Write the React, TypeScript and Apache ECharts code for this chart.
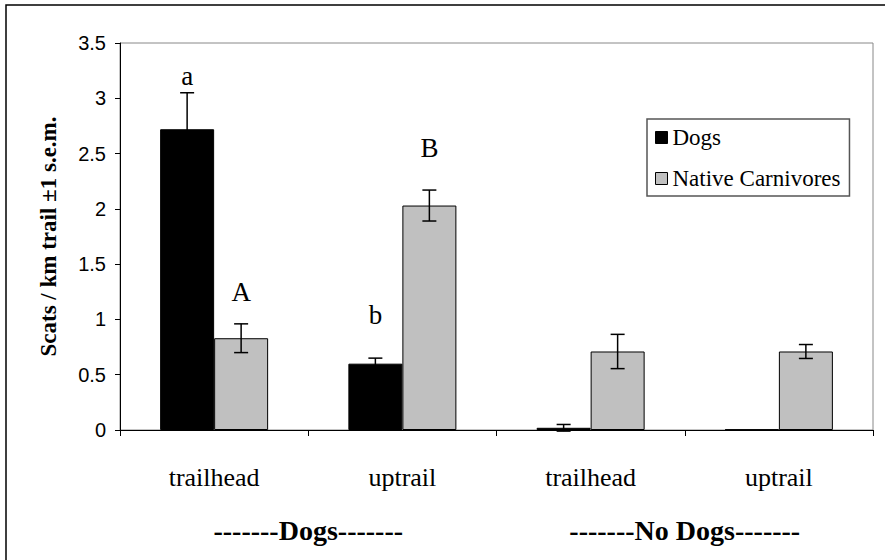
import React, { useEffect, useRef } from "react";
import * as echarts from "echarts";

const categories = ["trailhead", "uptrail", "trailhead", "uptrail"];
const groupLabels = ["-------Dogs-------", "-------No Dogs-------"];
const dogs = [2.72, 0.6, 0.02, 0.005];
const dogsErr = [0.33, 0.05, 0.03, 0];
const native = [0.83, 2.03, 0.71, 0.71];
const nativeErr = [0.13, 0.14, 0.155, 0.063];
// letter annotations: [categoryIndex, series (0 dogs, 1 native), y value, text]
const letters: [number, number, number, string][] = [
  [0, 0, 3.2, "a"],
  [0, 1, 1.25, "A"],
  [1, 0, 1.04, "b"],
  [1, 1, 2.55, "B"],
];
const yTicks = { min: 0, max: 3.5, interval: 0.5 };

const SERIF = "'Liberation Serif', 'Times New Roman', serif";
const SANS = "'Liberation Sans', Arial, sans-serif";
const BAR_W = 54;

function errorSeries(values: number[], errs: number[], sign: number) {
  return {
    type: "custom",
    xAxisIndex: 0,
    yAxisIndex: 0,
    silent: true,
    z: 5,
    data: values.map((v, i) => [i, v - errs[i], v + errs[i]]),
    renderItem: (params: any, api: any) => {
      const idx = api.value(0);
      const lo = api.value(1);
      const hi = api.value(2);
      if (hi - lo <= 0) return { type: "group", children: [] };
      const pLo = api.coord([idx, lo]);
      const pHi = api.coord([idx, hi]);
      const x = pLo[0] + (sign * BAR_W) / 2;
      const st = { stroke: "#000", lineWidth: 1.5 };
      return {
        type: "group",
        children: [
          { type: "line", shape: { x1: x, y1: pLo[1], x2: x, y2: pHi[1] }, style: st },
          { type: "line", shape: { x1: x - 7, y1: pLo[1], x2: x + 7, y2: pLo[1] }, style: st },
          { type: "line", shape: { x1: x - 7, y1: pHi[1], x2: x + 7, y2: pHi[1] }, style: st },
        ],
      };
    },
  };
}

export default function App() {
  const ref = useRef<HTMLDivElement>(null);
  useEffect(() => {
    if (!ref.current) return;
    const chart = echarts.init(ref.current, null, { renderer: "svg" });
    chart.setOption({
      animation: false,
      backgroundColor: "#fff",
      grid: {
        left: 120,
        right: 12,
        top: 43,
        bottom: 130,
        show: true,
        borderColor: "#888",
        borderWidth: 1,
      },
      legend: {
        orient: "vertical",
        left: 647,
        top: 119,
        padding: [7, 9, 6, 8],
        itemGap: 18,
        itemWidth: 12,
        itemHeight: 12,
        icon: "rect",
        backgroundColor: "#fff",
        borderColor: "#555",
        borderWidth: 1.5,
        textStyle: { fontFamily: SERIF, fontSize: 23, color: "#000" },
        data: [
          { name: "Dogs", itemStyle: { color: "#000", borderColor: "#000", borderWidth: 1 } },
          { name: "Native Carnivores", itemStyle: { color: "#c0c0c0", borderColor: "#000", borderWidth: 1 } },
        ],
      },
      xAxis: [
        {
          type: "category",
          data: categories,
          gridIndex: 0,
          axisLine: { lineStyle: { color: "#000", width: 1 } },
          axisTick: { show: true, length: 6, lineStyle: { color: "#000" } },
          axisLabel: { fontFamily: SERIF, fontSize: 26, color: "#000", margin: 34 },
        },
        {
          type: "category",
          data: groupLabels,
          gridIndex: 0,
          position: "bottom",
          axisLine: { show: false },
          axisTick: { show: false },
          axisLabel: { fontFamily: SERIF, fontSize: 28, fontWeight: "bold", color: "#000", margin: 86 },
        },
      ],
      yAxis: {
        type: "value",
        min: yTicks.min,
        max: yTicks.max,
        interval: yTicks.interval,
        name: "Scats / km trail ±1 s.e.m.",
        nameLocation: "middle",
        nameRotate: 90,
        nameGap: 60,
        nameTextStyle: { fontFamily: SERIF, fontSize: 23, fontWeight: "bold", color: "#000" },
        axisLine: { show: true, lineStyle: { color: "#000", width: 1 } },
        axisTick: { show: true, length: 5, lineStyle: { color: "#000" } },
        axisLabel: { fontFamily: SANS, fontSize: 20, color: "#000", margin: 14 },
        splitLine: { show: false },
      },
      series: [
        {
          name: "Dogs",
          type: "bar",
          xAxisIndex: 0,
          barWidth: BAR_W,
          barGap: "0%",
          data: dogs,
          itemStyle: { color: "#000", borderColor: "#000", borderWidth: 1 },
        },
        {
          name: "Native Carnivores",
          type: "bar",
          xAxisIndex: 0,
          barWidth: BAR_W,
          barGap: "0%",
          data: native,
          itemStyle: { color: "#c0c0c0", borderColor: "#000", borderWidth: 1 },
        },
        errorSeries(dogs, dogsErr, -1),
        errorSeries(native, nativeErr, 1),
        {
          type: "custom",
          xAxisIndex: 0,
          silent: true,
          z: 6,
          data: letters.map((l) => [l[0], l[2], l[1], l[3]]),
          renderItem: (params: any, api: any) => {
            const row = letters[params.dataIndex];
            const p = api.coord([api.value(0), api.value(1)]);
            const x = p[0] + ((row[1] === 0 ? -1 : 1) * BAR_W) / 2;
            return {
              type: "text",
              x,
              y: p[1],
              style: {
                text: row[3],
                fontFamily: SERIF,
                fontSize: 27,
                fill: "#000",
                align: "center",
                verticalAlign: "middle",
              },
            };
          },
        },
      ],
      graphic: [
        {
          type: "rect",
          shape: { x: 6, y: 5, width: 900, height: 600 },
          style: { fill: "none", stroke: "#000", lineWidth: 1.5 },
          silent: true,
        },
      ],
    });
    return () => chart.dispose();
  }, []);
  return (
    <div
      ref={ref}
      style={{ position: "fixed", left: 0, top: 0, width: 885, height: 560 }}
    />
  );
}
